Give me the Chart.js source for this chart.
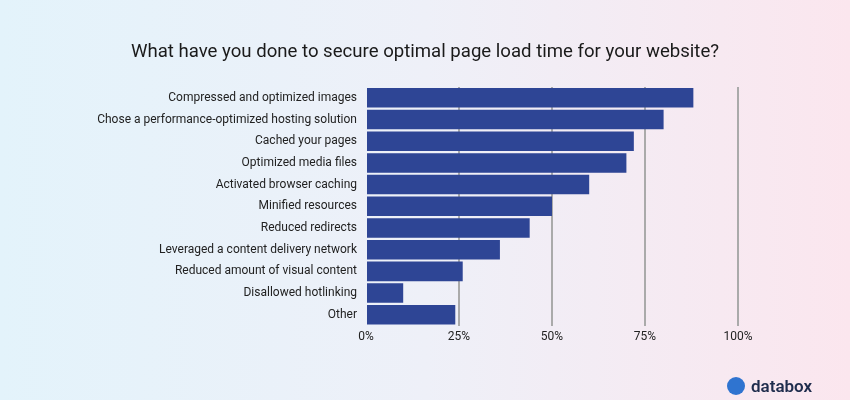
<!DOCTYPE html>
<html><head><meta charset="utf-8">
<script src="https://cdn.jsdelivr.net/npm/chart.js@4"></script>
<style>
body{margin:0;width:850px;height:400px;overflow:hidden;background:linear-gradient(90deg,#e3f3fb 0%,#eef0f8 50%,#fbe6ee 100%);font-family:Roboto,sans-serif}
#wrap{position:absolute;left:0;top:0;width:850px;height:400px}
#title{position:absolute;left:0;width:850px;top:40px;text-align:center;font:18.6px Roboto,sans-serif;color:#1a1a1a}
#logo{position:absolute;left:727px;top:376px;display:flex;align-items:center;font:600 17px Roboto,sans-serif;color:#1f2d4d}
#logo .ic{width:18px;height:18px;border-radius:50%;background:#2f74d0;margin-right:6px}
</style></head><body>
<div id="wrap"><canvas id="c" width="850" height="400"></canvas></div>
<div id="title">What have you done to secure optimal page load time for your website?</div>
<div id="logo"><div class="ic"></div>databox</div>
<script>
const categories = ['Compressed and optimized images','Chose a performance-optimized hosting solution','Cached your pages','Optimized media files','Activated browser caching','Minified resources','Reduced redirects','Leveraged a content delivery network','Reduced amount of visual content','Disallowed hotlinking','Other'];
const values = [88, 80, 72, 70, 60, 50, 44, 36, 26, 10, 24];
const xTicks = [0, 25, 50, 75, 100];

new Chart(document.getElementById('c'), {
    type: 'bar',
    data: { labels: categories, datasets: [{ data: values, backgroundColor: '#2e4595', barPercentage: 0.9, categoryPercentage: 1 }] },
    options: {
        indexAxis: 'y', responsive: false, animation: false,
        layout: { padding: { left: 0, right: 112, top: 87, bottom: 52 } },
        scales: {
            x: {
                min: 0, max: 100,
                afterBuildTicks: s => { s.ticks = xTicks.map(v => ({ value: v })); },
                ticks: { callback: v => v + '%', color: '#222', font: { size: 12, family: 'Roboto' }, padding: 4 },
                grid: { color: ctx => ctx.tick && ctx.tick.value === 0 ? 'rgba(0,0,0,0)' : '#aaaaaa', lineWidth: 2, drawTicks: false },
                border: { display: false }
            },
            y: {
                afterFit: s => { s.width = 366; },
                ticks: { color: '#222', font: { size: 12, family: 'Roboto' }, padding: 1 },
                grid: { display: false }, border: { display: false }
            }
        },
        plugins: { legend: { display: false }, tooltip: { enabled: false } }
    }
});
</script>
</body></html>
